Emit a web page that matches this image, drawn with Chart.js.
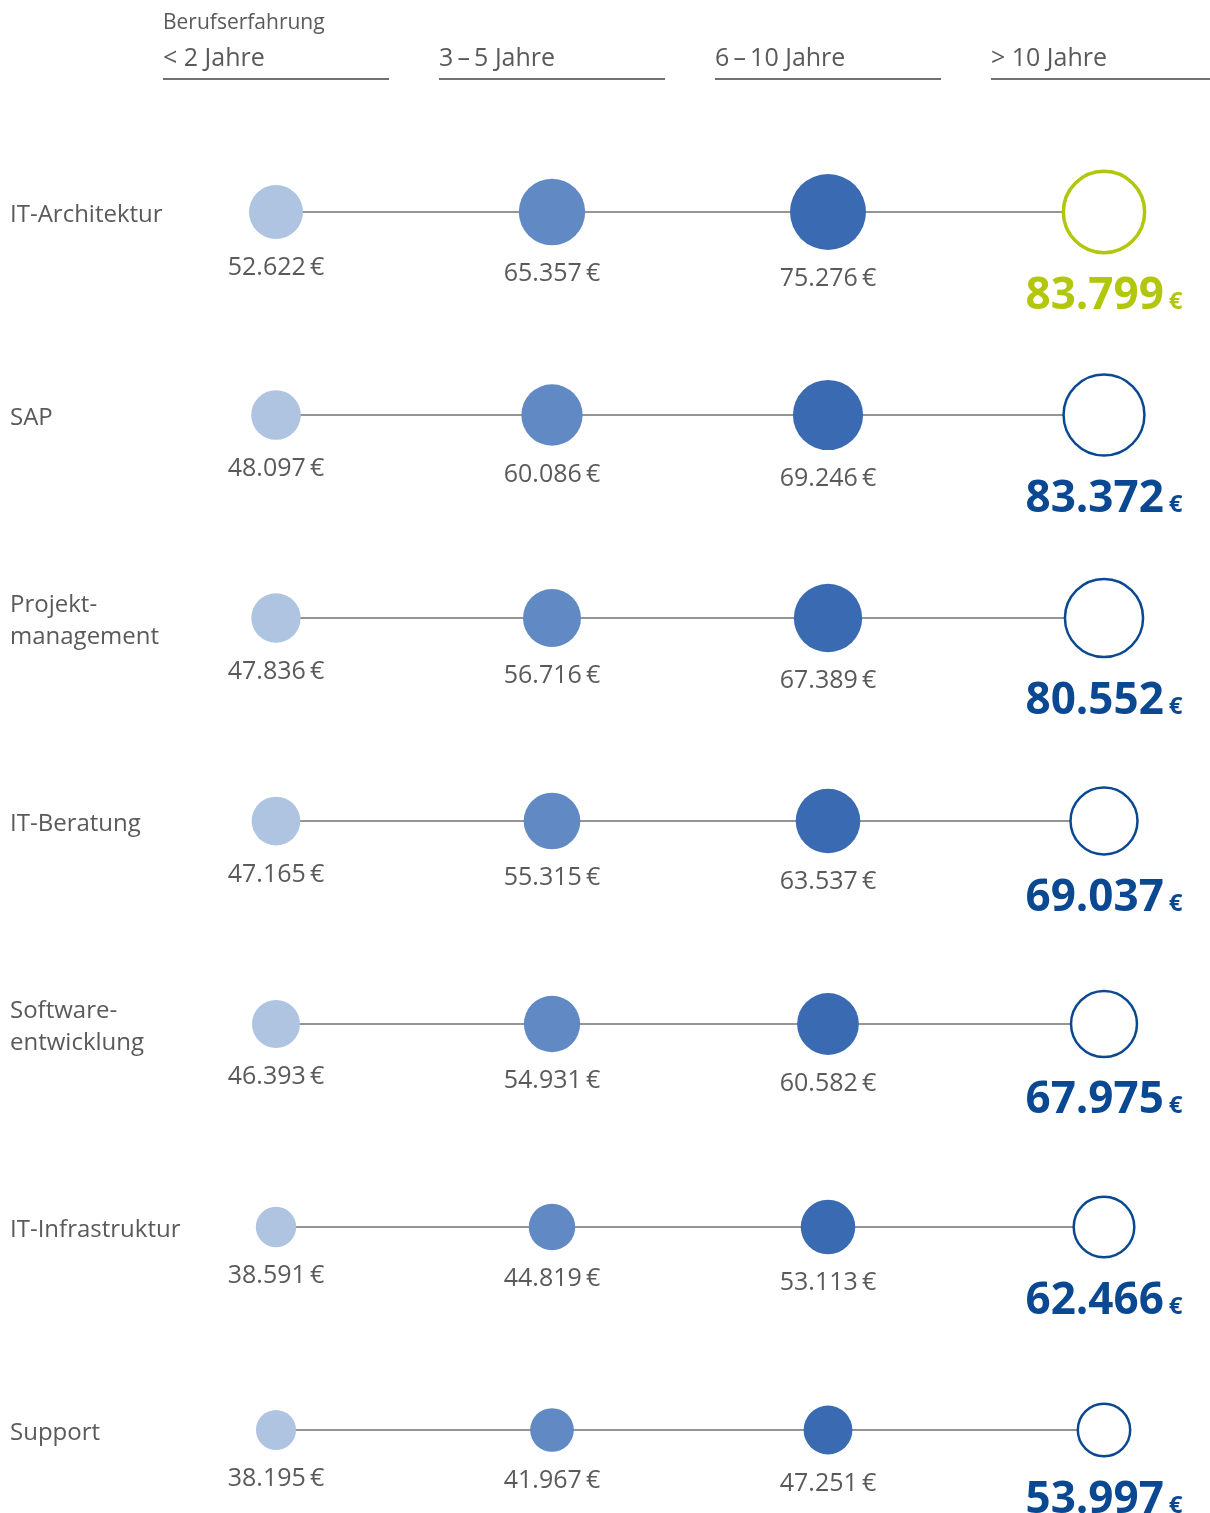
<!DOCTYPE html>
<html>
<head>
<meta charset="utf-8">
<script src="https://cdn.jsdelivr.net/npm/chart.js@4.4.1/dist/chart.umd.min.js"></script>
<style>
  html, body { margin: 0; padding: 0; background: #fff; }
  #wrap { position: relative; width: 1210px; height: 1513px; }
</style>
</head>
<body>
<div id="wrap"><canvas id="chart"></canvas></div>
<script>
var headerTitle = 'Berufserfahrung';
var columns = ['< 2 Jahre', '3\u2009\u2013\u20095 Jahre', '6\u2009\u2013\u200910 Jahre', '> 10 Jahre'];
var rows = [
  ['IT-Architektur'],
  ['SAP'],
  ['Projekt-', 'management'],
  ['IT-Beratung'],
  ['Software-', 'entwicklung'],
  ['IT-Infrastruktur'],
  ['Support']
];
var salaryLt2   = [52622, 48097, 47836, 47165, 46393, 38591, 38195];
var salary3to5  = [65357, 60086, 56716, 55315, 54931, 44819, 41967];
var salary6to10 = [75276, 69246, 67389, 63537, 60582, 53113, 47251];
var salaryGt10  = [83799, 83372, 80552, 69037, 67975, 62466, 53997];
var highlightRow = 0;   // ligne mise en avant (vert)

// ── Styles ───────────────────────────────────────────────────
var FONT   = '"Open Sans", "Noto Sans", sans-serif';
var GREY   = '#5a5a5a';
var LINE   = '#727272';
var NAVY   = '#0b4892';
var GREEN  = '#b2c70c';
var fills  = ['#afc4e1', '#6189c3', '#3a6bb2'];

var series = [salaryLt2, salary3to5, salary6to10, salaryGt10];

// rayon (px) proportionnel au salaire
function radius(v) { return v / 1000 * 0.485 + 1.5; }
function fmt(v) {
  return String(v).replace(/\B(?=(\d{3})+(?!\d))/g, '.');
}

// ── Datasets ────────────────────────────────────────────────
var datasets = [];

rows.forEach(function (r, i) {
  datasets.push({
    type: 'line',
    data: columns.map(function (c, j) { return { x: j, y: i }; }),
    borderColor: LINE,
    borderWidth: 1.5,
    pointRadius: 0,
    fill: false,
    clip: false,
    order: 10
  });
});

series.forEach(function (vals, j) {
  var last = j === series.length - 1;
  datasets.push({
    type: 'bubble',
    data: vals.map(function (v, i) {
      return { x: j, y: i, r: last ? radius(v) - 1.5 : radius(v) };
    }),
    backgroundColor: last ? '#ffffff' : fills[j],
    borderColor: last ? vals.map(function (v, i) { return i === highlightRow ? GREEN : NAVY; }) : fills[j],
    borderWidth: last ? vals.map(function (v, i) { return i === highlightRow ? 3.5 : 2.5; }) : 0,
    clip: false,
    order: 1
  });
});

// ── Plugin : en-têtes, libellés de lignes, valeurs ───────────
var labelsPlugin = {
  id: 'labels',
  afterDatasetsDraw: function (chart) {
    var ctx = chart.ctx;
    var xs = chart.scales.x, ys = chart.scales.y;
    ctx.save();

    // en-tête
    ctx.fillStyle = GREY;
    ctx.textBaseline = 'middle';
    ctx.textAlign = 'left';
    ctx.font = '21px ' + FONT;
    ctx.fillText(headerTitle, xs.getPixelForValue(0) - 113, 23);
    ctx.font = '25px ' + FONT;
    columns.forEach(function (c, j) {
      var cx = xs.getPixelForValue(j);
      ctx.fillStyle = GREY;
      ctx.fillText(c, cx - 113, 59);
      ctx.strokeStyle = LINE;
      ctx.lineWidth = 2;
      ctx.beginPath();
      ctx.moveTo(cx - 113, 79);
      ctx.lineTo(cx + 113, 79);
      ctx.stroke();
    });

    // libellés de lignes
    ctx.font = '24px ' + FONT;
    ctx.fillStyle = GREY;
    rows.forEach(function (r, i) {
      var cy = ys.getPixelForValue(i) + 3;
      r.forEach(function (line, k) {
        ctx.fillText(line, 10, cy + (k - (r.length - 1) / 2) * 32);
      });
    });

    // valeurs
    ctx.textAlign = 'center';
    series.forEach(function (vals, j) {
      var cx = xs.getPixelForValue(j);
      var last = j === series.length - 1;
      vals.forEach(function (v, i) {
        var cy = ys.getPixelForValue(i);
        var r = radius(v);
        if (!last) {
          ctx.font = '25px ' + FONT;
          ctx.fillStyle = GREY;
          ctx.fillText(fmt(v) + '\u2009\u20ac', cx, cy + r + 29);
        } else {
          var num = fmt(v);
          ctx.fillStyle = i === highlightRow ? GREEN : NAVY;
          ctx.font = 'bold 44px ' + FONT;
          var wNum = ctx.measureText(num).width;
          ctx.font = 'bold 24px ' + FONT;
          var wEur = ctx.measureText('\u20ac').width;
          var x0 = cx - (wNum + 5 + wEur) / 2;
          var base = cy + r + 55;
          ctx.textAlign = 'left';
          ctx.textBaseline = 'alphabetic';
          ctx.font = 'bold 44px ' + FONT;
          ctx.fillText(num, x0, base);
          ctx.font = 'bold 24px ' + FONT;
          ctx.fillText('\u20ac', x0 + wNum + 5, base);
          ctx.textAlign = 'center';
          ctx.textBaseline = 'middle';
        }
      });
    });
    ctx.restore();
  }
};

new Chart(document.getElementById('chart'), {
  type: 'bubble',
  data: { datasets: datasets },
  options: {
    responsive: true,
    maintainAspectRatio: false,
    animation: false,
    layout: { padding: { left: 276, right: 106, top: 212, bottom: 83 } },
    plugins: { legend: { display: false }, tooltip: { enabled: false } },
    scales: {
      x: { type: 'linear', min: 0, max: 3, display: false },
      y: { type: 'linear', min: 0, max: rows.length - 1, reverse: true, display: false }
    }
  },
  plugins: [labelsPlugin]
});
</script>
</body>
</html>
